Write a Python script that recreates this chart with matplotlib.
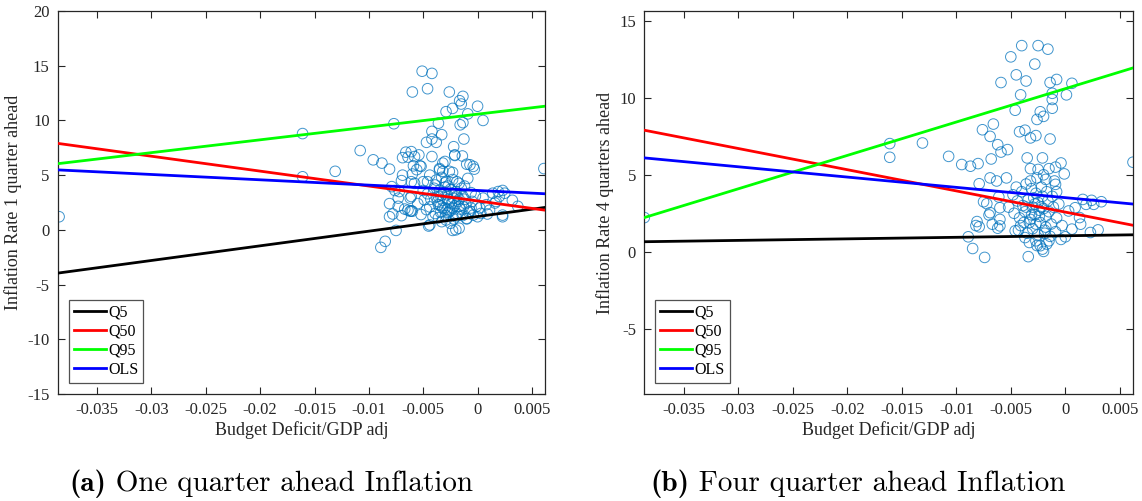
import numpy as np
import matplotlib
matplotlib.use("Agg")
import matplotlib.pyplot as plt
from matplotlib.ticker import FuncFormatter

plt.rcParams['font.family'] = ['Liberation Serif', 'DejaVu Serif']
plt.rcParams['axes.unicode_minus'] = False

# budget deficit / GDP (x) and inflation 1 quarter ahead (y)
x_1q = [-0.0385, -0.0161, -0.0161, -0.0131, -0.0108, -0.0096, -0.0088, -0.0081, -0.0077,
        -0.0051, -0.0042, -0.0060, -0.0046, -0.0026, -0.00135, -0.00165, -0.0015, -0.0023,
        -0.0029, 0.0000, -0.0009, 0.0005, -0.0036, -0.00135, -0.0016, -0.0042, -0.0033,
        -0.0042, -0.0047, -0.0038, -0.00126, -0.0022, -0.0021, -0.0014, -0.0042, -0.0066,
        -0.0061, -0.0069, -0.0064, -0.0058, -0.0054, -0.0059, -0.0053, -0.0056, -0.0030,
        -0.0010, -0.0007, -0.0004, -0.0003, 0.0061, -0.0069, -0.0060, -0.0044, -0.0035,
        -0.0032, -0.0023, -0.0009, -0.0046, -0.0038, -0.0070, -0.0061, -0.0079, -0.0076,
        -0.0072, -0.0073, -0.0062, -0.0081, -0.0073, -0.0067, -0.0064, -0.0061, -0.0060,
        -0.0081, -0.0078, -0.0070, -0.0075, -0.0085, -0.0089, -0.0045, -0.0023, -0.0020,
        -0.0017, 0.0023, 0.0019, 0.0014, 0.0025, 0.0020, 0.0023, 0.0009, 0.0003,
        -0.0004, -0.0010, 0.0000, -0.0006, 0.0016, 0.0037, -0.0021, -0.0052, -0.0032,
        -0.0035, -0.0026, -0.0058, -0.0050, -0.0039, -0.0029, -0.0017, -0.0061, -0.0049,
        -0.0036, -0.0024, -0.00135, 0.0032, 0.0017, -0.0001, -0.0062, -0.0047, -0.0039,
        -0.0032, -0.0026, -0.0017, -0.0007, 0.0011, 0.0023, -0.0044, -0.0033, -0.0020,
        -0.0010, -0.0029, -0.0040, -0.0035, -0.0030, -0.0025, -0.0020, -0.0015, -0.0038,
        -0.0032, -0.0028, -0.0022, -0.0018, -0.0012, -0.0036, -0.0030, -0.0026, -0.0021,
        -0.0016, -0.0011, -0.0034, -0.0029, -0.0024, -0.0019, -0.0014, -0.0008, -0.0043,
        -0.0046, -0.0027, -0.0023, -0.0033, -0.0019, -0.0041, -0.0025, -0.0005, -0.0002,
        0.0005, 0.0008, -0.0050, -0.0055, -0.0052, -0.0031, -0.0027, -0.0023, -0.0019,
        -0.0013, -0.0036, -0.0030, -0.0012, -0.0006, 0.0002, -0.0044,
        -0.0037, -0.0033, -0.0028, -0.0024, -0.0021, -0.0017, -0.0034, -0.0027, -0.0022]
y_1q = [1.2, 8.8, 4.85, 5.35, 7.25, 6.4, 6.1, 5.55, 9.7,
        14.5, 14.3, 12.6, 12.9, 12.6, 12.2, 11.8, 11.5, 11.1,
        10.8, 11.3, 10.6, 10.0, 9.75, 9.8, 9.6, 9.0, 8.7,
        8.3, 8.0, 8.0, 8.3, 7.6, 6.8, 6.75, 6.7, 7.1,
        7.15, 6.6, 6.65, 6.7, 6.85, 5.85, 5.85, 5.5, 6.25,
        6.0, 5.95, 5.8, 5.55, 5.6, 5.0, 5.1, 5.0, 5.6,
        5.35, 5.25, 4.7, 4.4, 4.55, 4.5, 4.4, 3.95, 3.6,
        3.5, 2.9, 2.9, 2.4, 2.15, 1.9, 1.8, 1.75, 1.7,
        1.2, 1.45, 1.3, -0.05, -1.05, -1.6, 0.35, -0.05, 0.0,
        0.15, 3.6, 3.5, 3.35, 3.35, 3.05, 1.2, 1.45, 1.5,
        1.35, 1.0, 1.2, 2.0, 2.45, 2.15, 6.85, 5.8, 6.1,
        5.5, 5.35, 4.25, 4.4, 4.1, 4.4, 4.25, 3.05, 2.75,
        3.05, 3.35, 3.05, 2.7, 2.6, 2.15, 1.7, 1.85, 1.5,
        2.0, 1.7, 2.15, 1.7, 1.8, 1.35, 0.45, 0.75, 1.2,
        1.05, 0.9, 3.8, 3.6, 3.9, 3.7, 3.5, 3.8, 3.0,
        2.7, 3.2, 2.9, 2.6, 2.8, 2.3, 2.0, 2.5, 2.2,
        1.9, 2.4, 1.6, 1.3, 1.8, 1.5, 1.3, 1.6, 2.8,
        3.3, 4.0, 4.6, 4.8, 4.4, 1.2, 0.6, 2.6, 3.1,
        2.9, 2.3, 3.6, 2.4, 1.4, 3.4, 2.8, 2.0, 3.1,
        2.1, 1.1, 4.3, 4.0, 3.4, 2.0, 2.1,
        2.6, 3.2, 1.9, 2.4, 3.3, 2.8, 2.2, 1.6, 1.0]

# budget deficit / GDP (x) and inflation 4 quarters ahead (y)
x_4q = [-0.0386, -0.0161, -0.0161, -0.0131, -0.0107, -0.0095, -0.0087, -0.0080, -0.0076,
        -0.0069, -0.0066, -0.0062, -0.0059, -0.0053, -0.0068, -0.0059, -0.0050, -0.0040,
        -0.0025, -0.0016, -0.0028, -0.0045, -0.0036, -0.0014, -0.0008, 0.0006, 0.0001,
        -0.0012, -0.0012, -0.0041, -0.0046, -0.0012, -0.0023, -0.0020, -0.0026, -0.0042,
        -0.0037, -0.0032, -0.0027, -0.0014, -0.0035, -0.0021, 0.0062, -0.0032, -0.0025,
        -0.0015, -0.0009, -0.0004, -0.0001, -0.0026, -0.0018, -0.0009, -0.0069, -0.0063,
        -0.0054, -0.0079, -0.0075, -0.0072, -0.0069, -0.0070, -0.0061, -0.0060, -0.0081,
        -0.0079, -0.0082, -0.0067, -0.0062, -0.0060, -0.0060, -0.0089, -0.0085, -0.0074,
        -0.0034, -0.0027, -0.0023, -0.0021, -0.0020, -0.0015, -0.0037, -0.0043, -0.0046,
        0.0000, 0.0006, 0.0014, 0.0023, 0.0030, 0.0009, 0.0016, 0.0024, 0.0033,
        0.0019, 0.0026, 0.0003, 0.0013, -0.0045, -0.0040, -0.0036, -0.0031, -0.0027,
        -0.0022, -0.0017, -0.0012, -0.0008, -0.0044, -0.0039, -0.0034, -0.0030, -0.0025,
        -0.0020, -0.0016, -0.0011, -0.0006, -0.0047, -0.0042, -0.0037, -0.0032, -0.0028,
        -0.0023, -0.0018, -0.0013, -0.0008, -0.0003, -0.0041, -0.0035, -0.0030, -0.0025,
        -0.0019, -0.0014, -0.0009, -0.0004, -0.0033, -0.0026, -0.0017, -0.0029, -0.0021,
        -0.0015, -0.0038, -0.0024, -0.0032, -0.0020, -0.0048, -0.0052, -0.0010,
        -0.0036, -0.0031, -0.0027, -0.0022, -0.0019, -0.0033, -0.0028, -0.0024, -0.0018]
y_4q = [2.22, 7.03, 6.14, 7.07, 6.2, 5.67, 5.56, 5.73, 7.93,
        7.5, 8.3, 6.96, 6.48, 6.64, 6.03, 11.0, 12.67, 13.4,
        13.4, 13.17, 12.2, 11.5, 11.1, 11.0, 11.2, 10.95, 10.2,
        10.3, 9.9, 10.2, 9.2, 9.33, 9.1, 8.8, 8.6, 7.8,
        7.9, 7.4, 7.55, 7.33, 6.1, 6.1, 5.82, 5.4, 5.35,
        5.4, 5.5, 5.77, 5.06, 4.8, 4.7, 4.38, 4.8, 4.6,
        4.8, 4.42, 3.25, 3.12, 2.54, 2.39, 3.56, 2.86, 1.96,
        1.62, 1.7, 1.79, 1.53, 1.68, 2.1, 0.97, 0.21, -0.37,
        -0.32, 0.71, 0.39, 0.17, 0.02, 0.71, 0.92, 1.4, 1.36,
        0.97, 1.47, 1.79, 1.25, 1.42, 2.86, 3.4, 3.34, 3.25,
        3.08, 3.08, 2.65, 2.22, 4.2, 3.9, 4.4, 4.1, 3.8,
        4.2, 3.9, 3.6, 3.9, 3.3, 3.0, 3.4, 2.9, 3.2,
        2.8, 3.3, 2.9, 3.1, 2.5, 2.2, 2.6, 2.1, 2.4,
        1.9, 2.3, 1.8, 2.2, 1.7, 1.7, 1.2, 1.5, 1.1,
        1.4, 1.0, 1.3, 0.8, 0.6, 0.4, 0.5, 3.5, 3.6,
        2.6, 1.9, 2.7, 4.6, 5.0, 3.7, 2.9, 4.6,
        2.9, 2.4, 1.8, 2.9, 1.2, 1.9, 3.1, 2.3, 1.6]

# fitted lines, values at the two ends of the x range
line_x = [-0.0386, 0.0062]
fits_1q = {'Q5': [-3.95, 2.05], 'Q50': [7.9, 1.8], 'Q95': [6.05, 11.3], 'OLS': [5.48, 3.3]}
fits_4q = {'Q5': [0.65, 1.1], 'Q50': [7.9, 1.72], 'Q95': [2.22, 11.95], 'OLS': [6.1, 3.1]}
fit_colors = {'Q5': 'black', 'Q50': 'red', 'Q95': (0, 1, 0), 'OLS': 'blue'}

xticks = [-0.035, -0.03, -0.025, -0.02, -0.015, -0.01, -0.005, 0, 0.005]
yticks_1q = [-15, -10, -5, 0, 5, 10, 15, 20]
yticks_4q = [-5, 0, 5, 10, 15]

captions = [('(a)', 'One quarter ahead Inflation', 0.2373),
            ('(b)', 'Four quarter ahead Inflation', 0.7513)]

fig = plt.figure(figsize=(11.42, 5.01), dpi=100)
ax1 = fig.add_axes([0.0508, 0.2136, 0.4264, 0.7644])
ax2 = fig.add_axes([0.5642, 0.2136, 0.4279, 0.7644])

panels = [(ax1, x_1q, y_1q, fits_1q, yticks_1q, (-15, 20), 'Inflation Rate 1 quarter ahead'),
          (ax2, x_4q, y_4q, fits_4q, yticks_4q, (-9.25, 15.65), 'Inflation Rate 4 quarters ahead')]

for ax, xs, ys, fits, yt, ylim, ylab in panels:
    ax.scatter(xs, ys, s=58, facecolors='none', edgecolors='#0072BD', linewidths=0.7, alpha=0.75, zorder=2)
    handles = []
    for name, ends in fits.items():
        h, = ax.plot(line_x, ends, color=fit_colors[name], lw=2, label=name, zorder=3)
        handles.append(h)
    ax.set_xlim(line_x[0], line_x[1])
    ax.set_ylim(*ylim)
    ax.set_xticks(xticks)
    ax.set_yticks(yt)
    ax.xaxis.set_major_formatter(FuncFormatter(lambda v, p: '%g' % round(v, 4)))
    ax.tick_params(direction='in', top=True, right=True, length=5, width=0.8,
                   labelsize=12, colors='#262626', pad=6)
    for sp in ax.spines.values():
        sp.set_color('#262626')
        sp.set_linewidth(0.9)
    ax.set_xlabel('Budget Deficit/GDP adj', fontsize=13, color='#262626', labelpad=2)
    ax.set_ylabel(ylab, fontsize=13, color='#262626', labelpad=4)
    leg = ax.legend(handles=handles, loc='lower left', fontsize=11.5, frameon=True, fancybox=False,
                    edgecolor='#262626', handlelength=2.0, handletextpad=0.15, borderpad=0.3,
                    labelspacing=0.2, borderaxespad=0.7)
    leg.get_frame().set_linewidth(0.9)

# captions: bold tag followed by roman text, centred as one line
renderer = fig.canvas.get_renderer()
fig_w = fig.bbox.width
for tag, text, xc in captions:
    t1 = fig.text(0, 0.02, tag, family='cmb10', fontsize=21, ha='left', va='baseline')
    t2 = fig.text(0, 0.02, ' ' + text, family='cmr10', fontsize=21, ha='left', va='baseline')
    w1 = t1.get_window_extent(renderer).width
    w2 = t2.get_window_extent(renderer).width
    x0 = xc - (w1 + w2) / 2 / fig_w
    t1.set_x(x0)
    t2.set_x(x0 + w1 / fig_w)

fig.savefig('out.png', dpi=100)
